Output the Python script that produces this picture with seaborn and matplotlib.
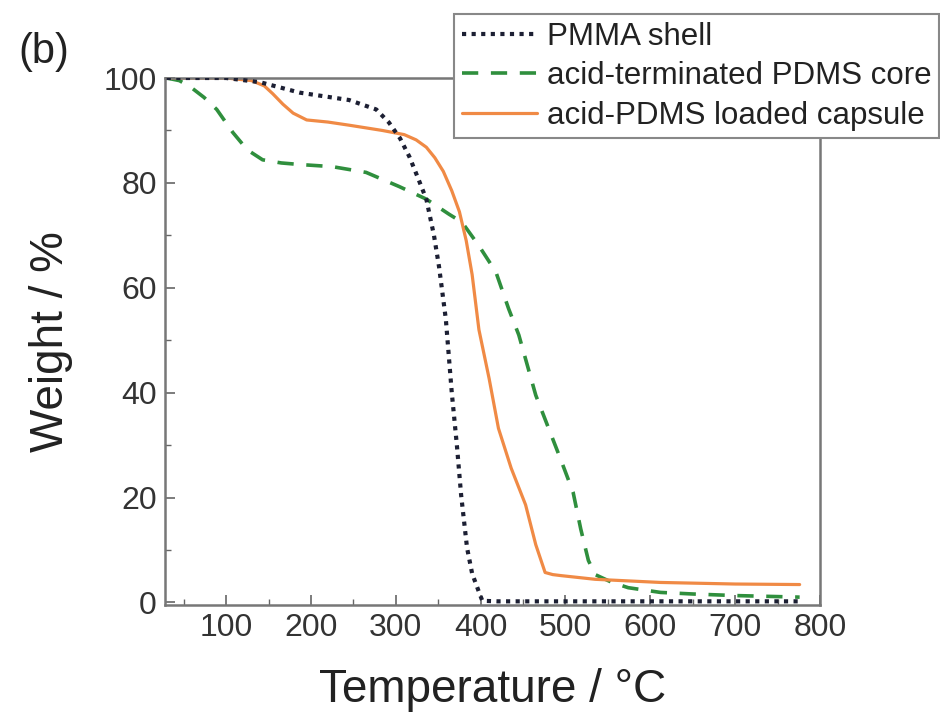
import matplotlib
matplotlib.use("Agg")
import matplotlib.pyplot as plt
import seaborn as sns
import pandas as pd
from matplotlib.ticker import MultipleLocator

# ---- data ----
pmma_T = [30, 100, 140, 187, 245, 277, 292, 305, 316, 326, 336, 345, 351, 359, 366, 372, 377, 384, 390, 398, 402, 420, 500, 600, 700, 776]
pmma_W = [100, 100, 99.2, 97.2, 95.8, 94, 91.5, 88.5, 85, 81, 76.9, 70, 64, 54, 40, 30, 20.5, 10.4, 5.5, 2.0, 0.3, 0.2, 0.2, 0.2, 0.2, 0.2]

core_T = [30, 45, 58, 74, 89, 108, 125, 143, 165, 187, 225, 265, 304, 336, 363, 378, 398, 418, 433, 445, 465, 495, 509, 518, 527, 535, 555, 574, 612, 650, 700, 776]
core_W = [100, 99.5, 98.3, 96.3, 94, 89.6, 86.3, 84.4, 83.8, 83.5, 83.1, 82, 79.3, 76.9, 74, 72.5, 68, 63, 56, 51, 39.5, 27, 21, 14, 8, 5.3, 3.8, 2.8, 1.9, 1.6, 1.3, 1.0]

caps_T = [30, 100, 130, 145, 155, 167, 179, 195, 220, 245, 284, 310, 324, 336, 346, 356, 366, 375, 383, 390, 398, 410, 421, 436, 453, 465, 476, 485, 495, 535, 612, 700, 776]
caps_W = [100, 100, 99.5, 98.5, 97, 95, 93.3, 92, 91.6, 91, 90, 89.2, 88.2, 86.8, 84.8, 82.2, 78.5, 74.5, 69, 62.5, 52, 42.7, 33.2, 25.6, 18.6, 11, 5.7, 5.3, 5.1, 4.4, 3.8, 3.5, 3.4]

labels = ["PMMA shell", "acid-terminated PDMS core", "acid-PDMS loaded capsule"]
x_ticks = [100, 200, 300, 400, 500, 600, 700, 800]
y_ticks = [0, 20, 40, 60, 80, 100]

sns.set_theme(style="ticks")
plt.rcParams['font.family'] = ['Liberation Sans', 'DejaVu Sans']

fig = plt.figure(figsize=(9.4, 7.2), dpi=100)
ax = fig.add_axes([165/940, 1-605/720, (820-165)/940, (605-78)/720])

df_p = pd.DataFrame({"T": pmma_T, "W": pmma_W})
df_c = pd.DataFrame({"T": core_T, "W": core_W})
df_k = pd.DataFrame({"T": caps_T, "W": caps_W})

sns.lineplot(data=df_p, x="T", y="W", ax=ax, color="#1c1f33", lw=3.0,
             linestyle=(0, (1.0, 1.3)), label=labels[0], zorder=3)
sns.lineplot(data=df_c, x="T", y="W", ax=ax, color="#2f8f3d", lw=2.6,
             linestyle=(0, (4.5, 3.5)), label=labels[1], zorder=2)
sns.lineplot(data=df_k, x="T", y="W", ax=ax, color="#f08a45", lw=2.3,
             linestyle="-", label=labels[2], zorder=2)

ax.set_xlim(28, 800)
ax.set_ylim(-0.5, 100)
ax.set_xticks(x_ticks)
ax.set_yticks(y_ticks)
ax.xaxis.set_minor_locator(MultipleLocator(50))
ax.yaxis.set_minor_locator(MultipleLocator(10))
ax.tick_params(axis="both", which="major", direction="in", length=7, width=1.2,
               labelsize=23, colors="#666666", labelcolor="#333333", pad=6)
ax.tick_params(axis="both", which="minor", direction="in", length=4, width=1.0,
               colors="#666666")
for s in ax.spines.values():
    s.set_visible(True)
    s.set_color("#777777")
    s.set_linewidth(1.8)

ax.set_xlabel("Temperature / °C", fontsize=33, color="#222222", labelpad=18)
ax.set_ylabel("Weight / %", fontsize=33, color="#222222", labelpad=22)

ax.get_legend().remove()
handles, labs = ax.get_legend_handles_labels()
leg = fig.legend(handles, labs, loc="upper right",
                 bbox_to_anchor=(939/940, 1-14/720), fontsize=22.5,
                 frameon=True, fancybox=False, framealpha=1,
                 edgecolor="#888888", handlelength=2.4, handletextpad=0.3,
                 labelspacing=0.3, borderpad=0.25, borderaxespad=0.0)
leg.get_frame().set_linewidth(1.5)
for t in leg.get_texts():
    t.set_color("#222222")

fig.text(18/940, 1-32/720, "(b)", fontsize=30, color="#222222",
         ha="left", va="top")

fig.savefig("out.png", dpi=100, facecolor="white")
